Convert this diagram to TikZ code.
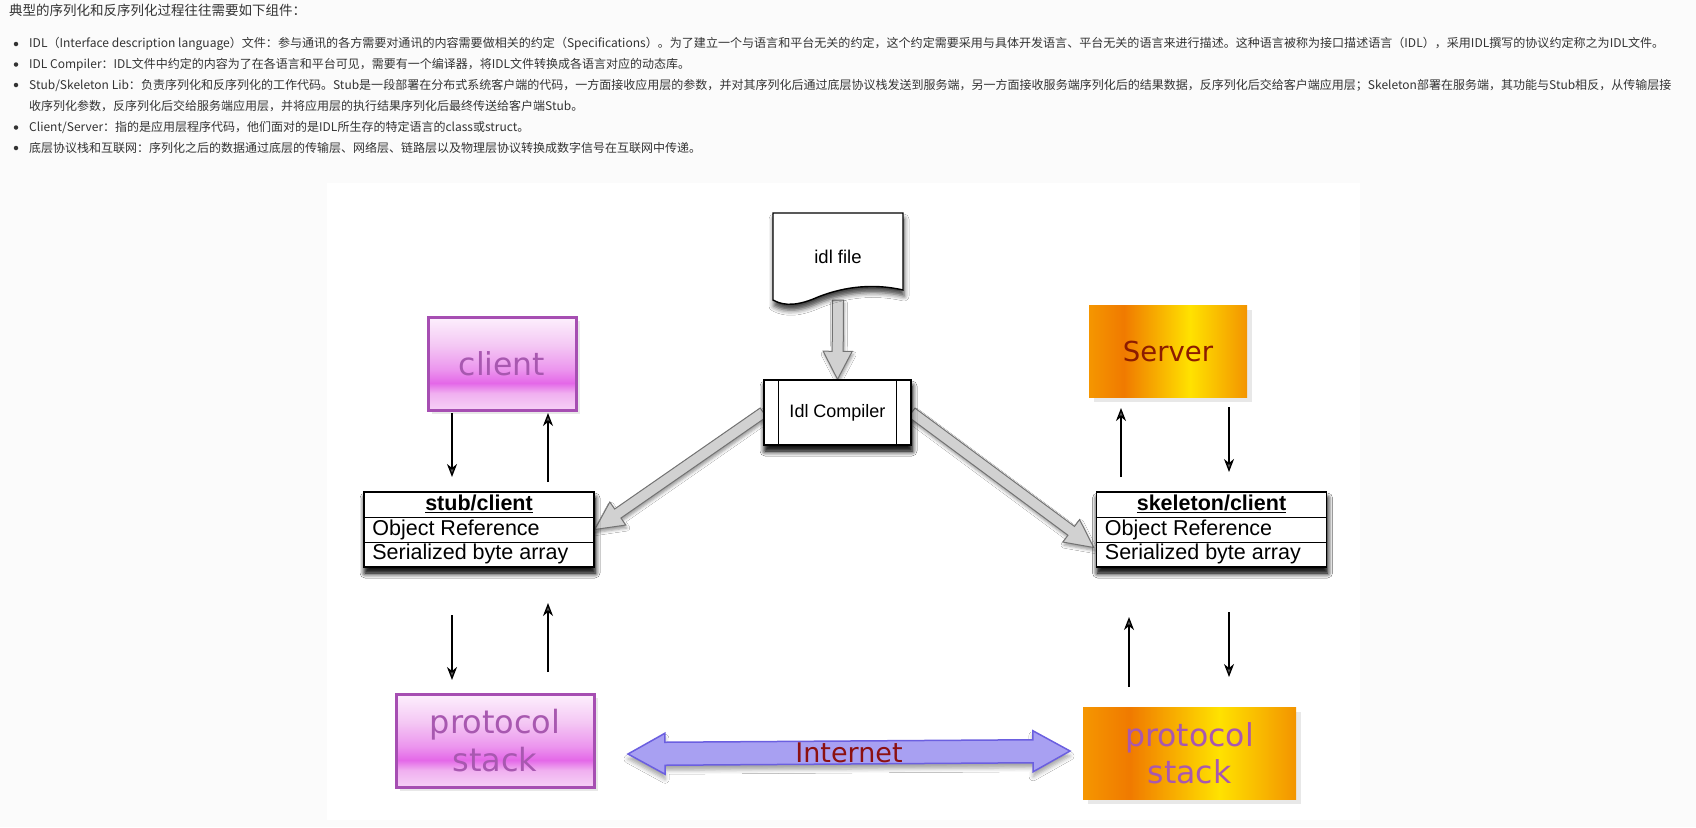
\documentclass[tikz,border=0pt]{standalone}
\usepackage{fontspec}
\usepackage{graphicx}
\setmainfont{Liberation Sans}
\newfontfamily\cjk{Noto Sans CJK SC}
\newfontfamily\dvs{DejaVu Sans}
\usetikzlibrary{calc,arrows.meta,shadows,shadows.blur}
\definecolor{pagebg}{RGB}{251,251,251}
\definecolor{txt}{RGB}{51,51,51}
\definecolor{pinkB}{RGB}{166,78,178}
\definecolor{pinkT}{RGB}{168,88,176}
\definecolor{srvT}{RGB}{140,28,0}
\definecolor{inetT}{RGB}{140,16,16}
\definecolor{inetB}{RGB}{107,95,224}
\definecolor{inetF}{RGB}{168,160,242}
\definecolor{pkA}{RGB}{246,208,246}
\definecolor{pkB}{RGB}{240,176,240}
\definecolor{pkC}{RGB}{228,104,232}
\definecolor{pkD}{RGB}{236,150,238}
\definecolor{pkE}{RGB}{244,200,244}
\definecolor{pkF}{RGB}{253,240,253}
\definecolor{orA}{RGB}{245,150,0}
\definecolor{orB}{RGB}{240,122,0}
\definecolor{orC}{RGB}{255,226,0}
\definecolor{orD}{RGB}{243,148,0}
\pgfdeclareverticalshading{pinkshade}{100bp}{color(0bp)=(pkA); color(25bp)=(pkA); color(34bp)=(pkB); color(39.5bp)=(pkC); color(47bp)=(pkD); color(60bp)=(pkE); color(75bp)=(pkF); color(100bp)=(pkF)}
\pgfdeclarehorizontalshading{orangeshade}{100bp}{color(0bp)=(orA); color(25bp)=(orA); color(36bp)=(orB); color(57bp)=(orC); color(75bp)=(orD); color(100bp)=(orD)}
\newcommand\fatarrow[4]{%
  \coordinate (fa-b) at ($(#2)!28pt!(#1)$);
  \draw[fat] ($(#1)!#3!90:(#2)$) -- ($(fa-b)!#3!90:(#2)$) -- ($(fa-b)!#4!90:(#2)$) -- (#2) -- ($(fa-b)!#4!-90:(#2)$) -- ($(fa-b)!#3!-90:(#2)$) -- ($(#1)!#3!-90:(#2)$) -- cycle;}
\begin{document}
\begin{tikzpicture}[x=1pt,y=-1pt,
  hdr/.style={anchor=west,inner sep=0,text=txt,font=\cjk\fontsize{13.5pt}{16pt}\selectfont},
  bl/.style={anchor=west,inner sep=0,text=txt,font=\cjk\fontsize{12pt}{14pt}\selectfont},
  bul/.style={circle,fill=txt,inner sep=0,minimum size=4.5pt},
  pinkbox/.style={draw=pinkB,line width=3pt,shading=pinkshade,text=pinkT,inner sep=0,align=center,
    drop shadow={shadow xshift=4pt,shadow yshift=-4pt,opacity=0.18}},
  orangebox/.style={shading=orangeshade,inner sep=0,align=center,
    drop shadow={shadow xshift=5pt,shadow yshift=-5pt,opacity=0.18}},
  tbl/.style={draw=black,line width=1.6pt,fill=white,inner sep=0,minimum width=230pt,minimum height=75pt,
    blur shadow={shadow xshift=1pt,shadow yshift=-6pt,shadow blur radius=5pt,shadow opacity=75}},
  tbltxt/.style={inner sep=0,font=\fontsize{21.5pt}{24pt}\selectfont},
  proc/.style={draw=black,line width=1.4pt,fill=white,inner sep=0,font=\fontsize{18pt}{20pt}\selectfont,
    blur shadow={shadow xshift=1pt,shadow yshift=-6pt,shadow blur radius=5pt,shadow opacity=75}},
  fat/.style={draw=black!55,fill=black!18,line width=1pt,line join=miter,
    blur shadow={shadow xshift=1pt,shadow yshift=-3pt,shadow blur radius=3pt,shadow opacity=40}},
  blk/.style={line width=1.4pt,-{Stealth[length=13pt,width=10pt,inset=4pt]}},
  inet/.style={draw=inetB,line width=1.5pt,fill=inetF,
    blur shadow={shadow xshift=0pt,shadow yshift=-5pt,shadow blur radius=4pt,shadow opacity=35}}]
\useasboundingbox (0,0) rectangle (1696,827);
\fill[pagebg] (0,0) rectangle (1696,827);
\fill[white] (327,183) rectangle (1360,820);
% header text
\node[hdr] (t0) at (9,10) {典型的序列化和反序列化过程往往需要如下组件：};
\node[bul] (b1) at (16,44) {};
\node[bl] (t1) at (29,44) {\resizebox{1635pt}{\height}{IDL（Interface description language）文件：参与通讯的各方需要对通讯的内容需要做相关的约定（Specifications）。为了建立一个与语言和平台无关的约定，这个约定需要采用与具体开发语言、平台无关的语言来进行描述。这种语言被称为接口描述语言（IDL），采用IDL撰写的协议约定称之为IDL文件。}};
\node[bul] (b2) at (16,64.5) {};
\node[bl] (t2) at (29,64.5) {IDL Compiler：IDL文件中约定的内容为了在各语言和平台可见，需要有一个编译器，将IDL文件转换成各语言对应的动态库。};
\node[bul] (b3) at (16,85) {};
\node[bl] (t3) at (29,85) {\resizebox{1642pt}{\height}{Stub/Skeleton Lib：负责序列化和反序列化的工作代码。Stub是一段部署在分布式系统客户端的代码，一方面接收应用层的参数，并对其序列化后通过底层协议栈发送到服务端，另一方面接收服务端序列化后的结果数据，反序列化后交给客户端应用层；Skeleton部署在服务端，其功能与Stub相反，从传输层接}};
\node[bl] (t3b) at (29,106) {收序列化参数，反序列化后交给服务端应用层，并将应用层的执行结果序列化后最终传送给客户端Stub。};
\node[bul] (b4) at (16,127.5) {};
\node[bl] (t4) at (29,127.5) {Client/Server：指的是应用层程序代码，他们面对的是IDL所生存的特定语言的class或struct。};
\node[bul] (b5) at (16,148) {};
\node[bl] (t5) at (29,148) {底层协议栈和互联网：序列化之后的数据通过底层的传输层、网络层、链路层以及物理层协议转换成数字信号在互联网中传递。};
% nodes positions (invisible anchors first)
\node[minimum width=130pt,minimum height=87pt,inner sep=0] (idl) at (838,256.5) {};
\node[proc,minimum width=147pt,minimum height=65pt] (comp) at (837.5,412.5) {Idl Compiler};
\node[tbl] (stub) at (479,529.5) {};
\node[tbl] (skel) at (1211.5,529.5) {};
\coordinate (g3tip) at ($(skel.west)+(-2,18)$);
% gray fat arrows
\fatarrow{idl.south}{comp.north}{5.5pt}{14.5pt}
\fatarrow{comp.west}{stub.east}{5.5pt}{14pt}
\fatarrow{comp.east}{g3tip}{5.5pt}{14pt}
% redraw compiler and tables on top
\node[proc,minimum width=147pt,minimum height=65pt] (comp2) at (comp) {Idl Compiler};
\draw[line width=1.4pt] ([xshift=15pt]comp2.north west) -- ([xshift=15pt]comp2.south west);
\draw[line width=1.4pt] ([xshift=-15pt]comp2.north east) -- ([xshift=-15pt]comp2.south east);
% idl file document shape
\draw[line width=1.4pt,fill=white,blur shadow={shadow xshift=1pt,shadow yshift=-6pt,shadow blur radius=5pt,shadow opacity=75}]
  (773,213) -- (903,213) -- (903,290) .. controls (868,282) and (838,289) .. (818,297) .. controls (800,305) and (785,307) .. (773,300) -- cycle;
\node[inner sep=0,font=\fontsize{18.5pt}{20pt}\selectfont] (idltxt) at (838,257) {idl file};
% tables
\foreach \t/\h in {stub/stub\slash client,skel/skeleton\slash client}{
  \node[tbl] (\t2) at (\t) {};
  \draw[line width=1.4pt] ([yshift=-26pt]\t2.north west) -- ([yshift=-26pt]\t2.north east);
  \draw[line width=1.4pt] ([yshift=-51pt]\t2.north west) -- ([yshift=-51pt]\t2.north east);
  \node[tbltxt] (\t h) at ([yshift=-13pt]\t2.north) {\textbf{\underline{\h}}};
  \node[tbltxt,anchor=west] (\t o) at ([xshift=9pt,yshift=-38.5pt]\t2.north west) {Object Reference};
  \node[tbltxt,anchor=west] (\t s) at ([xshift=9pt,yshift=-63pt]\t2.north west) {Serialized byte array};
}
% client / server / protocol stacks
\node[pinkbox,minimum width=148pt,minimum height=93pt,font=\dvs\fontsize{31.5pt}{34pt}\selectfont] (client) at (502,363.5) {client};
\node[orangebox,minimum width=158pt,minimum height=92pt,text=srvT,font=\dvs\fontsize{27.5pt}{32pt}\selectfont] (server) at (1168,351) {Server};
\node[pinkbox,minimum width=198pt,minimum height=93pt,font=\dvs\fontsize{32pt}{38pt}\selectfont] (psl) at (495,740.5) {protocol\\stack};
\node[orangebox,minimum width=213pt,minimum height=92pt,text=pinkT,font=\dvs\fontsize{31.5pt}{37pt}\selectfont] (psr) at (1189.5,753) {protocol\\stack};
% black arrows
\coordinate (a1s) at (452,413); \coordinate (a1e) at (452,477);
\coordinate (a2s) at (548,482); \coordinate (a2e) at (548,413);
\coordinate (a3s) at (452,615); \coordinate (a3e) at (452,680);
\coordinate (a4s) at (548,672); \coordinate (a4e) at (548,603);
\coordinate (a5s) at (1121,477); \coordinate (a5e) at (1121,408);
\coordinate (a6s) at (1229,407); \coordinate (a6e) at (1229,472);
\coordinate (a7s) at (1129,687); \coordinate (a7e) at (1129,617);
\coordinate (a8s) at (1229,612); \coordinate (a8e) at (1229,677);
\foreach \i in {1,...,8}{\draw[blk] (a\i s) -- (a\i e);}
% Internet double arrow
\coordinate (iL) at (628,754);
\coordinate (iR) at (1070,751);
\coordinate (iLb) at ($(iL)!37pt!(iR)$);
\coordinate (iRb) at ($(iR)!37pt!(iL)$);
\draw[inet] (iL) -- ($(iLb)!20.5pt!90:(iR)$) -- ($(iLb)!11.5pt!90:(iR)$) -- ($(iRb)!11.5pt!-90:(iL)$) -- ($(iRb)!20.5pt!-90:(iL)$) -- (iR) -- ($(iRb)!20.5pt!90:(iL)$) -- ($(iRb)!11.5pt!90:(iL)$) -- ($(iLb)!11.5pt!-90:(iR)$) -- ($(iLb)!20.5pt!-90:(iR)$) -- cycle;
\node[inner sep=0,text=inetT,font=\dvs\fontsize{27pt}{30pt}\selectfont] (inet) at ($(iL)!0.5!(iR)$) {Internet};
\end{tikzpicture}
\end{document}
